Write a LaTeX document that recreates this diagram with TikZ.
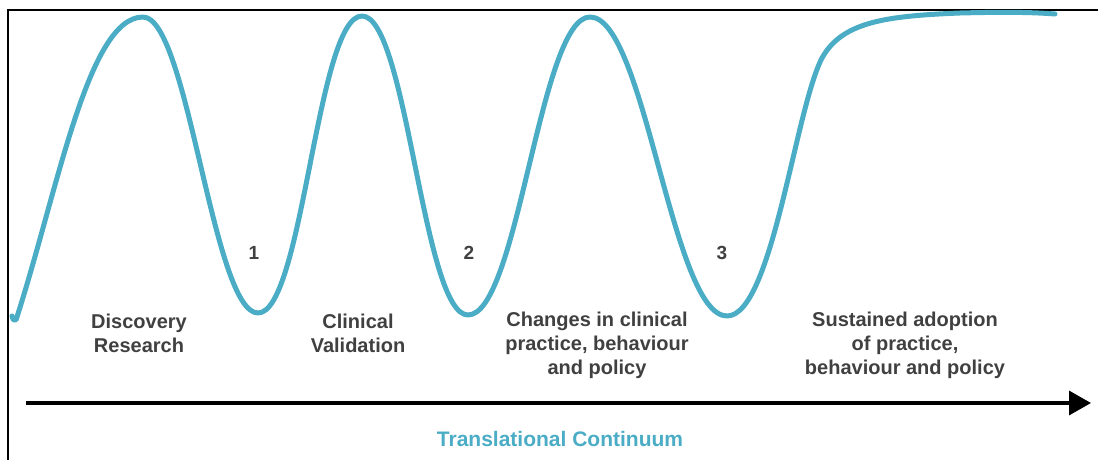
\documentclass[tikz,border=0pt]{standalone}
\usepackage{fontspec}
\setmainfont{Liberation Sans}
\usetikzlibrary{arrows.meta}
\definecolor{aqua}{HTML}{4BACC6}
\definecolor{darktext}{HTML}{404040}

\begin{document}
\begin{tikzpicture}[x=1pt, y=-1pt,
    label text/.style = {align=center, font=\fontsize{20}{24}\selectfont\bfseries, text=darktext, inner sep=0pt},
    stage num/.style = {font=\fontsize{19}{20}\selectfont\bfseries, text=darktext, inner sep=0pt}]
    \useasboundingbox (0,0) rectangle (1098,460);
    % frame
    \draw[line width=1.4pt] (8,460) |- (1098,10);
    % wave
    \draw[aqua, line width=5pt, line cap=round, line join=round]
        (12,316) .. controls (13,320) and (14,321) .. (16,320)
        .. controls (58,190) and (88,17) .. (143,17)
        .. controls (188,17) and (213,313) .. (258,313)
        .. controls (303,313) and (317,16) .. (362,16)
        .. controls (407,16) and (423,315) .. (468,315)
        .. controls (518,315) and (540,17) .. (590,17)
        .. controls (645,17) and (672,316) .. (727,316)
        .. controls (772,316) and (795,110) .. (822,58)
        .. controls (842,22) and (885,16) .. (960,13)
        .. controls (1000,12) and (1030,12) .. (1055,14);
    % gaps
    \node[stage num] at (254,253) (G1) {1};
    \node[stage num] at (469,253) (G2) {2};
    \node[stage num] at (722,253) (G3) {3};
    % stages
    \node[label text] at (139,333) (S1) {Discovery\\Research};
    \node[label text] at (358,333) (S2) {Clinical\\Validation};
    \node[label text] at (597,345) (S3) {Changes in clinical\\practice, behaviour\\and policy};
    \node[label text] at (905,345) (S4) {Sustained adoption\\of practice,\\behaviour and policy};
    % axis
    \coordinate (A) at (26,403);
    \coordinate (B) at (1091,403);
    \draw[line width=3.5pt, -{Triangle[length=22pt, width=24pt]}] (A) -- (B);
    \node[font=\fontsize{21}{24}\selectfont\bfseries, text=aqua, inner sep=0pt] at (560,439) (T) {Translational Continuum};
\end{tikzpicture}
\end{document}
